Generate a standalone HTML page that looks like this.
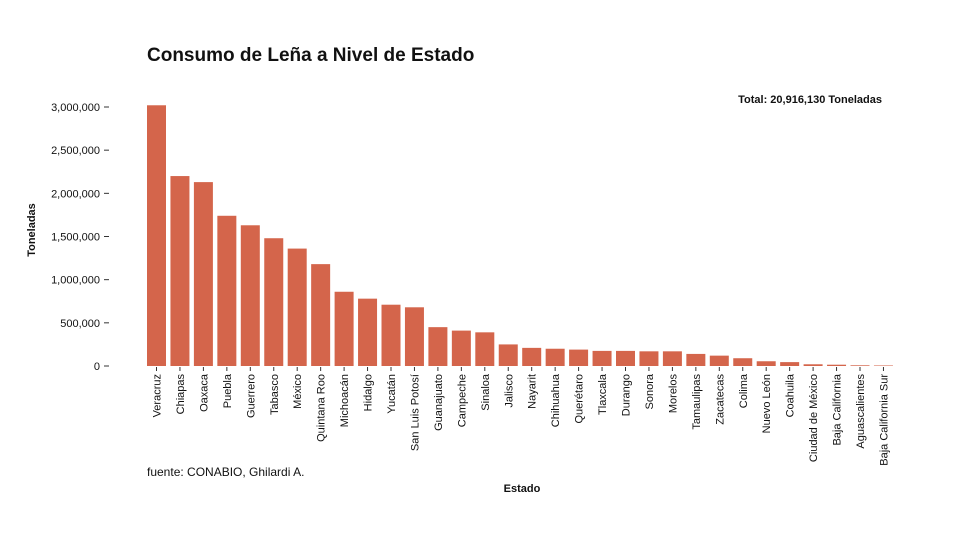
<!DOCTYPE html>
<html><head><meta charset="utf-8"><style>
body{margin:0;background:#fff;font-family:"Liberation Sans",sans-serif}
svg{display:block}
</style></head><body>
<svg id="c" width="960" height="540">
<text x="147" y="61" font-size="19" font-weight="bold" fill="#111">Consumo de Leña a Nivel de Estado</text>
<text x="882" y="103" font-size="11" font-weight="bold" text-anchor="end" fill="#111">Total: 20,916,130 Toneladas</text>
<text transform="translate(35,230) rotate(-90)" font-size="11" font-weight="bold" text-anchor="middle" fill="#111">Toneladas</text>
<text x="522" y="492" font-size="11" font-weight="bold" text-anchor="middle" fill="#111">Estado</text>
<text x="147" y="476" font-size="12" fill="#111">fuente: CONABIO, Ghilardi A.</text>
<g id="g"></g>
</svg>
<script>
const categories=["Veracruz","Chiapas","Oaxaca","Puebla","Guerrero","Tabasco","México","Quintana Roo","Michoacán","Hidalgo","Yucatán","San Luis Potosí","Guanajuato","Campeche","Sinaloa","Jalisco","Nayarit","Chihuahua","Querétaro","Tlaxcala","Durango","Sonora","Morelos","Tamaulipas","Zacatecas","Colima","Nuevo León","Coahuila","Ciudad de México","Baja California","Aguascalientes","Baja California Sur"];
const values=[3020000,2200000,2130000,1740000,1630000,1480000,1360000,1180000,860000,780000,710000,680000,450000,410000,390000,250000,210000,200000,190000,175000,175000,170000,170000,140000,120000,90000,55000,45000,20000,15000,8000,6000];
const yTicks=[0,500000,1000000,1500000,2000000,2500000,3000000];
const yTickLabels=["0","500,000","1,000,000","1,500,000","2,000,000","2,500,000","3,000,000"];
const NS="http://www.w3.org/2000/svg";
const g=document.getElementById('g');
const y0=366,ppu=259/3000000,x0=145.5,step=23.45,bw=19;
const y=v=>y0-v*ppu;
const x=i=>x0+i*step;
function mk(t,a){const e=document.createElementNS(NS,t);for(const k in a)e.setAttribute(k,a[k]);g.appendChild(e);return e;}
yTicks.forEach((v,i)=>{
  const l=mk('line',{x1:104,x2:109,y1:y(v),y2:y(v),stroke:'#333'});
  
  
  const t=mk('text',{x:100,y:y(v)+4,'font-size':11,'text-anchor':'end',fill:'#111'});
  t.textContent=yTickLabels[i];
  
  
});
categories.forEach((c,i)=>{
  const r=mk('rect',{x:x(i)+1.5,y:y(values[i]),width:bw,height:y0-y(values[i]),fill:'#d4654b'});
  
  
  const cx=x(i)+1.5+bw/2;
  const tk=mk('line',{x1:cx,x2:cx,y1:367,y2:371,stroke:'#333'});
  
  
  const t=mk('text',{transform:`translate(${cx+4},374) rotate(-90)`,'font-size':11,'text-anchor':'end',fill:'#111'});
  t.textContent=c;
  
  
});
</script>
</body></html>
